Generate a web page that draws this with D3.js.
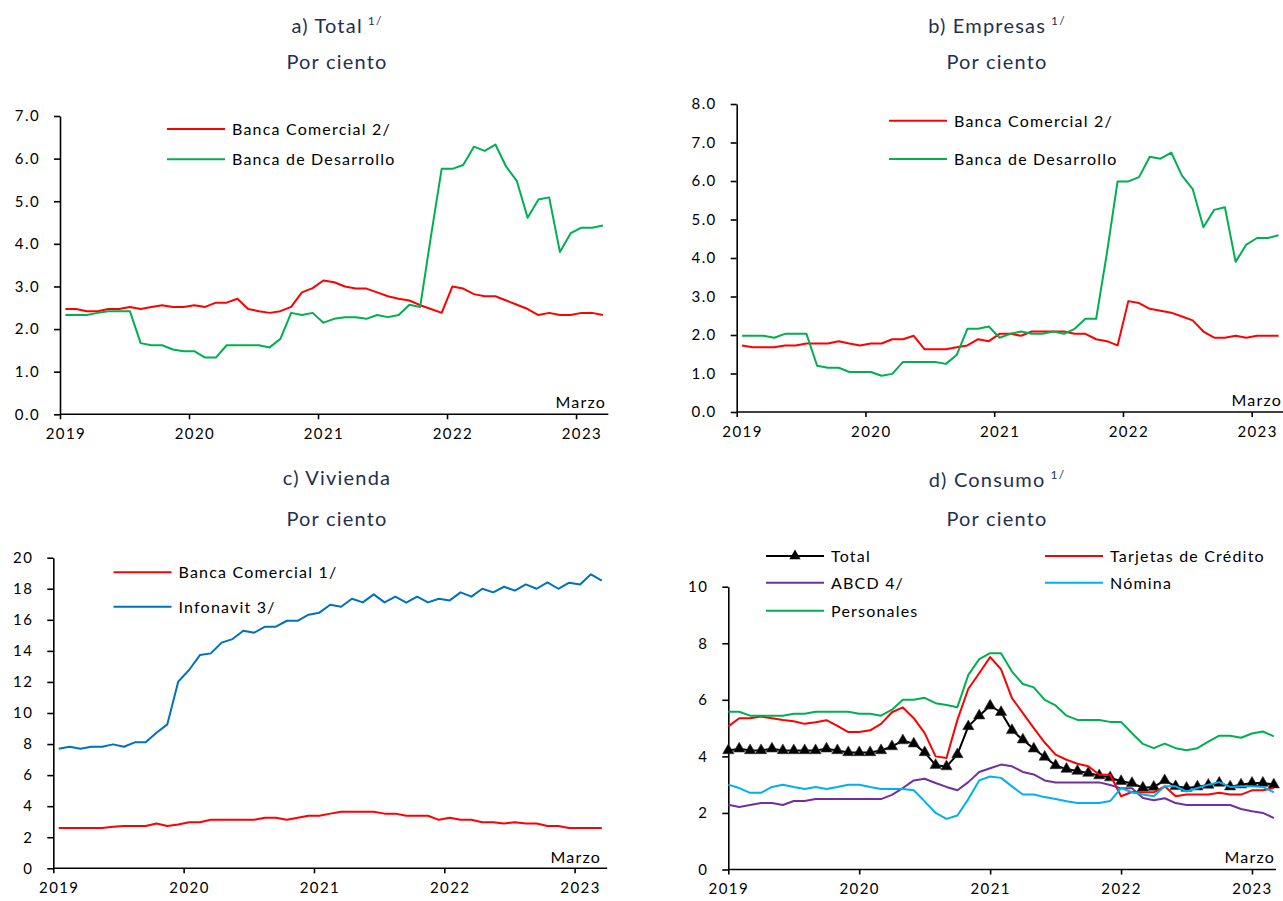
<!DOCTYPE html>
<html><head><meta charset="utf-8">
<script src="https://cdn.jsdelivr.net/npm/d3@7"></script>
<style>
body{margin:0;background:#fff;}
svg{display:block;font-family:Lato,"Open Sans",sans-serif;}
</style></head><body>
<svg id="c" width="1283" height="901"></svg>
<script>
// ---------- DATA (monthly, Jan 2019 – Mar 2023) ----------
const years = ["2019","2020","2021","2022","2023"];
const yearStarts = [0,12,24,36,48];

const aComercial = [2.47,2.47,2.42,2.42,2.47,2.47,2.52,2.47,2.52,2.56,2.52,2.52,
 2.56,2.52,2.62,2.62,2.71,2.47,2.42,2.38,2.42,2.52,2.86,2.96,
 3.14,3.10,3.00,2.95,2.95,2.86,2.77,2.71,2.67,2.56,2.47,2.38,
 3.00,2.95,2.82,2.77,2.77,2.67,2.57,2.47,2.33,2.38,2.33,2.33,
 2.38,2.38,2.33];
const aDesarrollo = [2.33,2.33,2.33,2.38,2.42,2.42,2.42,1.67,1.62,1.62,1.52,1.48,
 1.48,1.33,1.33,1.62,1.62,1.62,1.62,1.57,1.77,2.38,2.33,2.38,
 2.15,2.24,2.28,2.28,2.24,2.33,2.28,2.33,2.57,2.52,4.17,5.76,
 5.76,5.85,6.28,6.18,6.33,5.81,5.47,4.61,5.04,5.09,3.81,4.25,
 4.38,4.38,4.43];

const bComercial = [1.73,1.68,1.68,1.68,1.73,1.73,1.78,1.78,1.78,1.84,1.78,1.73,
 1.78,1.78,1.89,1.89,1.98,1.63,1.63,1.63,1.68,1.73,1.89,1.84,
 2.03,2.03,1.98,2.09,2.09,2.09,2.09,2.03,2.03,1.89,1.84,1.73,
 2.88,2.83,2.68,2.63,2.58,2.48,2.38,2.09,1.93,1.93,1.98,1.93,
 1.98,1.98,1.98];
const bDesarrollo = [1.98,1.98,1.98,1.93,2.03,2.03,2.03,1.20,1.15,1.15,1.04,1.04,
 1.04,0.94,0.99,1.30,1.30,1.30,1.30,1.25,1.48,2.16,2.16,2.22,
 1.93,2.03,2.09,2.03,2.03,2.09,2.03,2.16,2.42,2.42,4.12,5.99,
 5.99,6.10,6.63,6.58,6.74,6.14,5.79,4.80,5.25,5.32,3.90,4.35,
 4.52,4.52,4.59];

const cComercial = [2.60,2.60,2.60,2.60,2.60,2.68,2.72,2.72,2.72,2.88,2.72,2.82,
 2.97,2.97,3.12,3.12,3.12,3.12,3.12,3.25,3.25,3.12,3.25,3.38,
 3.38,3.52,3.64,3.64,3.64,3.64,3.52,3.52,3.38,3.38,3.38,3.12,
 3.25,3.12,3.12,2.97,2.97,2.88,2.97,2.88,2.88,2.72,2.72,2.60,
 2.60,2.60,2.60];
const cInfonavit = [7.70,7.83,7.70,7.83,7.83,7.98,7.83,8.11,8.11,8.73,9.27,12.02,
 12.77,13.73,13.84,14.53,14.76,15.30,15.17,15.56,15.56,15.94,15.94,16.33,
 16.46,16.97,16.84,17.36,17.12,17.64,17.12,17.49,17.10,17.49,17.12,17.36,
 17.25,17.77,17.49,18.00,17.77,18.13,17.88,18.28,18.00,18.41,18.00,18.39,
 18.28,18.93,18.52];

const dTotal = [4.21,4.27,4.21,4.21,4.27,4.21,4.21,4.21,4.21,4.27,4.21,4.14,
 4.14,4.14,4.21,4.35,4.56,4.45,4.14,3.69,3.64,4.07,5.06,5.44,
 5.79,5.56,4.92,4.59,4.27,3.98,3.68,3.55,3.48,3.41,3.32,3.25,
 3.12,3.05,2.89,2.92,3.15,2.94,2.88,2.93,2.99,3.06,2.93,3.00,
 3.06,3.06,3.00];
const dTarjetas = [5.06,5.35,5.35,5.41,5.35,5.29,5.24,5.15,5.21,5.28,5.08,4.86,
 4.86,4.92,5.15,5.56,5.73,5.35,4.82,4.00,3.94,5.29,6.39,6.94,
 7.51,7.08,6.06,5.53,5.00,4.49,4.06,3.88,3.74,3.65,3.35,3.35,
 2.59,2.74,2.73,2.73,2.94,2.59,2.65,2.65,2.65,2.71,2.65,2.65,
 2.80,2.80,2.88];
const dABCD = [2.29,2.21,2.28,2.35,2.35,2.28,2.42,2.42,2.49,2.49,2.49,2.49,
 2.49,2.49,2.49,2.64,2.88,3.15,3.21,3.06,2.92,2.80,3.09,3.45,
 3.58,3.71,3.65,3.45,3.36,3.15,3.08,3.08,3.08,3.08,3.08,2.99,
 2.87,2.87,2.53,2.45,2.52,2.35,2.28,2.28,2.28,2.28,2.28,2.14,
 2.06,2.00,1.82];
const dNomina = [3.00,2.88,2.71,2.71,2.92,3.00,2.92,2.85,2.92,2.85,2.92,3.00,
 3.00,2.92,2.85,2.85,2.85,2.80,2.41,2.00,1.79,1.91,2.49,3.15,
 3.29,3.24,2.94,2.65,2.65,2.56,2.49,2.41,2.35,2.35,2.35,2.42,
 2.88,2.73,2.65,2.59,2.94,2.94,2.76,2.88,3.00,3.09,2.92,2.94,
 2.94,2.92,2.73];
const dPersonales = [5.58,5.58,5.44,5.44,5.44,5.44,5.51,5.51,5.58,5.58,5.58,5.58,
 5.51,5.51,5.44,5.65,6.00,6.00,6.07,5.88,5.82,5.74,6.88,7.44,
 7.65,7.65,7.00,6.56,6.44,6.00,5.80,5.44,5.29,5.29,5.29,5.22,
 5.22,4.82,4.44,4.29,4.45,4.29,4.22,4.29,4.52,4.73,4.73,4.66,
 4.81,4.88,4.71];

// ---------- DRAWING ----------
const svg = d3.select("#c");
const TITLE = "#1F3050";

function title(cx, y1, main, sup, y2) {
  const t = svg.append("text").attr("x", cx).attr("y", y1).attr("text-anchor","middle")
    .attr("fill", TITLE).style("font-size","20px").style("letter-spacing","1.2px");
  t.append("tspan").text(main);
  if (sup) t.append("tspan").attr("dx", 5).attr("dy", -8).style("font-size","12px").text(sup);
  svg.append("text").attr("x", cx).attr("y", y2).attr("text-anchor","middle")
    .attr("fill", TITLE).style("font-size","20px").style("letter-spacing","1.2px").text("Por ciento");
}

function panel(cfg) {
  const g = svg.append("g");
  const x = d3.scaleLinear().domain(cfg.xDomain).range([cfg.x0, cfg.x1]);
  const y = d3.scaleLinear().domain([0, cfg.yMax]).range([cfg.y0, cfg.y1]);
  const off = cfg.offset;

  const yAxis = d3.axisLeft(y)
    .tickValues(d3.range(0, cfg.yMax + 1e-9, cfg.yStep))
    .tickFormat(cfg.yFmt).tickSize(6).tickSizeOuter(0).tickPadding(14);
  const ya = g.append("g").attr("transform", `translate(${cfg.x0},0)`).call(yAxis);

  const xAxis = d3.axisBottom(x).tickValues(yearStarts)
    .tickFormat((d, i) => years[i]).tickSize(5).tickSizeOuter(0).tickPadding(9);
  const xa = g.append("g").attr("transform", `translate(0,${cfg.y0})`).call(xAxis);
  xa.select(".domain").attr("d", `M${cfg.x0},0H${cfg.axisEnd}`);
  xa.selectAll(".tick text").attr("x", x(off) - x(0));

  [ya, xa].forEach(a => {
    a.select(".domain").attr("stroke","#000").attr("stroke-width",1.6);
    a.selectAll(".tick line").attr("stroke","#000").attr("stroke-width",1.6);
    a.selectAll(".tick text").attr("fill","#000").style("font-size","15px")
      .style("font-family","Lato, sans-serif").style("letter-spacing","1.4px");
  });

  const line = d3.line().x((d, i) => x(i + off)).y(d => y(d));
  cfg.series.forEach(s => {
    g.append("path").datum(s.values).attr("d", line).attr("fill","none")
      .attr("stroke", s.color).attr("stroke-width", 2).attr("stroke-linejoin","round");
    if (s.marker) {
      g.selectAll(null).data(s.values).enter().append("path")
        .attr("d", d3.symbol(d3.symbolTriangle, 55))
        .attr("transform", (d, i) => `translate(${x(i + off)},${y(d)})`)
        .attr("fill","#000").attr("stroke","#333").attr("stroke-width",0.6);
    }
  });

  // legend
  cfg.legend.forEach(l => {
    const s = cfg.series[l.s];
    g.append("line").attr("x1", l.x).attr("x2", l.x + 58).attr("y1", l.y).attr("y2", l.y)
      .attr("stroke", s.color).attr("stroke-width", 2);
    if (s.marker) g.append("path").attr("d", d3.symbol(d3.symbolTriangle, 55))
      .attr("transform", `translate(${l.x + 29},${l.y})`).attr("fill","#000");
    g.append("text").attr("x", l.x + 65).attr("y", l.y + 6).attr("fill","#000")
      .style("font-size","16px").style("letter-spacing","1.2px").text(s.name);
  });

  g.append("text").attr("x", cfg.marzo[0]).attr("y", cfg.marzo[1]).attr("text-anchor","end")
    .attr("fill","#000").style("font-size","16px").style("letter-spacing","1.2px").text("Marzo");
}

title(337, 33, "a) Total", "1/", 69);
title(997, 33, "b) Empresas", "1/", 69);
title(337, 485, "c) Vivienda", null, 526);
title(997, 487, "d) Consumo", "1/", 526);

const f1 = d3.format(".1f"), f0 = d3.format("d");

panel({ x0: 60, x1: 608.3, axisEnd: 608.3, xDomain: [0, 51], offset: 0.5,
  y0: 414.3, y1: 116, yMax: 7, yStep: 1, yFmt: f1,
  series: [
    { name: "Banca Comercial 2/", values: aComercial, color: "#FF0000" },
    { name: "Banca de Desarrollo", values: aDesarrollo, color: "#00B050" }],
  legend: [{ s: 0, x: 167, y: 129 }, { s: 1, x: 167, y: 159.3 }],
  marzo: [606, 408] });

panel({ x0: 736.7, x1: 1283.9, axisEnd: 1283.9, xDomain: [0, 51], offset: 0.5,
  y0: 412, y1: 104, yMax: 8, yStep: 1, yFmt: f1,
  series: [
    { name: "Banca Comercial 2/", values: bComercial, color: "#FF0000" },
    { name: "Banca de Desarrollo", values: bDesarrollo, color: "#00B050" }],
  legend: [{ s: 0, x: 889, y: 120.7 }, { s: 1, x: 889, y: 159 }],
  marzo: [1282, 406] });

panel({ x0: 53.3, x1: 607.2, axisEnd: 607.2, xDomain: [0, 51], offset: 0.5,
  y0: 868.3, y1: 557.7, yMax: 20, yStep: 2, yFmt: f0,
  series: [
    { name: "Banca Comercial 1/", values: cComercial, color: "#FF0000" },
    { name: "Infonavit 3/", values: cInfonavit, color: "#0070C0" }],
  legend: [{ s: 0, x: 113.5, y: 572.3 }, { s: 1, x: 113.5, y: 606.7 }],
  marzo: [601, 862.7] });

panel({ x0: 728.3, x1: 1273.8, axisEnd: 1276, xDomain: [0, 50], offset: 0,
  y0: 869.5, y1: 586.7, yMax: 10, yStep: 2, yFmt: f0,
  series: [
    { name: "Total", values: dTotal, color: "#000000", marker: true },
    { name: "Tarjetas de Crédito", values: dTarjetas, color: "#FF0000" },
    { name: "ABCD 4/", values: dABCD, color: "#7030A0" },
    { name: "Nómina", values: dNomina, color: "#00B0F0" },
    { name: "Personales", values: dPersonales, color: "#00B050" }],
  legend: [{ s: 0, x: 766, y: 556 }, { s: 1, x: 1045, y: 556 },
           { s: 2, x: 766, y: 582.7 }, { s: 3, x: 1045, y: 582.7 },
           { s: 4, x: 766, y: 610.7 }],
  marzo: [1275, 862.7] });
</script>
</body></html>
